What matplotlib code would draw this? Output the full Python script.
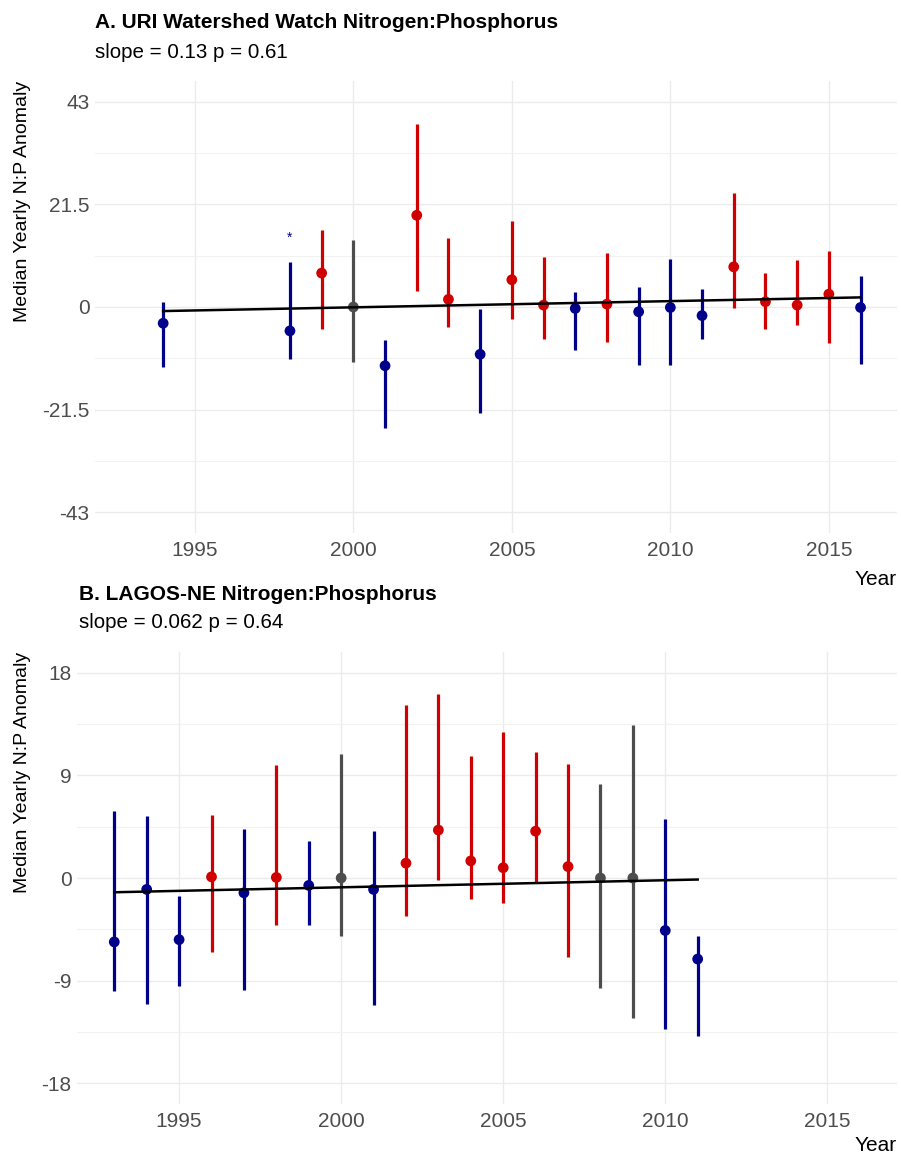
import matplotlib.pyplot as plt

plt.rcParams['font.family'] = ['Liberation Sans', 'DejaVu Sans']

# panel A: URI Watershed Watch
years_a = [1994, 1998, 1999, 2000, 2001, 2002, 2003, 2004, 2005, 2006, 2007,
           2008, 2009, 2010, 2011, 2012, 2013, 2014, 2015, 2016]
med_a = [-3.4, -5.0, 7.1, 0.0, -12.3, 19.2, 1.6, -9.9, 5.7, 0.4, -0.3,
         0.6, -1.0, -0.1, -1.8, 8.4, 1.1, 0.4, 2.7, -0.1]
lo_a = [-12.6, -10.9, -4.6, -11.5, -25.4, 3.4, -4.1, -22.2, -2.5, -6.6, -9.0,
        -7.4, -12.2, -12.2, -6.8, -0.3, -4.7, -3.8, -7.6, -12.0]
hi_a = [1.1, 9.5, 16.1, 14.0, -6.9, 38.4, 14.4, -0.4, 18.1, 10.5, 3.2,
        11.3, 4.1, 10.1, 3.7, 23.8, 7.1, 9.9, 11.7, 6.4]
dir_a = ['neg', 'neg', 'pos', 'none', 'neg', 'pos', 'pos', 'neg', 'pos', 'pos', 'neg',
         'pos', 'neg', 'neg', 'neg', 'pos', 'pos', 'pos', 'pos', 'neg']
slope_a = 0.13
start_a = -0.85
star_a = (1998, 14.4)

# panel B: LAGOS-NE
years_b = list(range(1993, 2012))
med_b = [-5.6, -1.0, -5.4, 0.1, -1.3, 0.05, -0.65, 0.0, -1.0, 1.3, 4.2, 1.5,
         0.9, 4.1, 1.0, 0.0, 0.0, -4.6, -7.1]
lo_b = [-9.9, -11.0, -9.5, -6.5, -9.8, -4.1, -4.1, -5.05, -11.1, -3.3, -0.2, -1.8,
        -2.2, -0.35, -6.9, -9.6, -12.3, -13.2, -13.8]
hi_b = [5.9, 5.4, -1.6, 5.5, 4.3, 9.9, 3.2, 10.9, 4.1, 15.2, 16.1, 10.7,
        12.8, 11.0, 10.0, 8.2, 13.4, 5.2, -5.1]
dir_b = ['neg', 'neg', 'neg', 'pos', 'neg', 'pos', 'neg', 'none', 'neg', 'pos', 'pos', 'pos',
         'pos', 'pos', 'pos', 'none', 'none', 'neg', 'neg']
slope_b = 0.062
start_b = -1.25

colors = {'neg': '#00008B', 'pos': '#D00000', 'none': '#4D4D4D'}
W, H = 901, 1159
TICK = '#4D4D4D'


def panel(box, years, med, lo, hi, dirs, slope, start, yt, ylbls, title, sub, tx, ybase):
    left, top, right, bottom = box
    ax = fig.add_axes([left / W, 1 - bottom / H, (right - left) / W, (bottom - top) / H])
    cols = [colors[d] for d in dirs]
    ax.vlines(years, lo, hi, colors=cols, linewidth=2.3, zorder=2)
    ax.scatter(years, med, c=cols, s=60, zorder=3, linewidths=0)
    xs = [years[0], years[-1]]
    ax.plot(xs, [start + slope * (x - years[0]) for x in xs], color='black', lw=1.8, zorder=4)
    ax.set_xlim(1991.85, 2017.15)
    span = yt[0] * 1.1
    ax.set_ylim(-span, span)
    ax.set_xticks([1995, 2000, 2005, 2010, 2015])
    ax.set_yticks(yt)
    ax.set_yticklabels(ylbls)
    ax.set_yticks([(yt[i] + yt[i + 1]) / 2 for i in range(len(yt) - 1)], minor=True)
    ax.grid(True, which='major', color='#EBEBEB', lw=1.0)
    ax.grid(True, which='minor', axis='y', color='#F2F2F2', lw=0.8)
    ax.set_axisbelow(True)
    for s in ax.spines.values():
        s.set_visible(False)
    ax.tick_params(which='both', length=0, labelsize=15, labelcolor=TICK)
    ax.tick_params(axis='x', pad=6)
    ax.tick_params(axis='y', pad=4)
    fig.text(tx / W, 1 - ybase[0] / H, title, fontsize=15, fontweight='bold', va='baseline')
    fig.text(tx / W, 1 - ybase[1] / H, sub, fontsize=14.8, va='baseline')
    fig.text(right / W, 1 - ybase[2] / H, 'Year', fontsize=15, ha='right', va='baseline')
    fig.text(23 / W, 1 - top / H, 'Median Yearly N:P Anomaly', fontsize=14,
             rotation=90, ha='center', va='top')
    return ax


fig = plt.figure(figsize=(W / 100, H / 100), dpi=100)

ax_a = panel((95, 81, 897, 533), years_a, med_a, lo_a, hi_a, dir_a, slope_a, start_a,
             [43, 21.5, 0, -21.5, -43], ['43', '21.5', '0', '-21.5', '-43'],
             'A. URI Watershed Watch Nitrogen:Phosphorus', 'slope = 0.13 p = 0.61',
             95, (28, 58, 585))
ax_a.text(star_a[0], star_a[1], '*', color=colors['neg'], fontsize=10, ha='center', va='center')

ax_b = panel((77, 652, 897, 1104), years_b, med_b, lo_b, hi_b, dir_b, slope_b, start_b,
             [18, 9, 0, -9, -18], ['18', '9', '0', '-9', '-18'],
             'B. LAGOS-NE Nitrogen:Phosphorus', 'slope = 0.062 p = 0.64',
             79, (600, 628, 1151))

fig.savefig('out.png', dpi=100)
